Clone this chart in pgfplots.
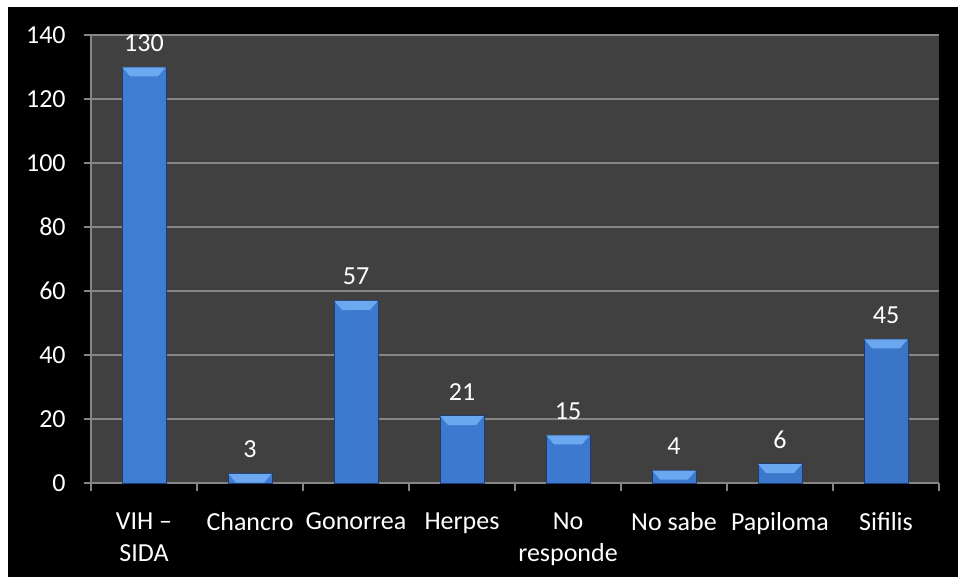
\documentclass[border=0pt]{standalone}
\usepackage{fontspec}
\setmainfont{Carlito}
\usepackage{pgfplots}
\pgfplotsset{compat=1.18}

\definecolor{plotbg}{RGB}{64,64,64}
\definecolor{gridgray}{RGB}{134,134,134}
\definecolor{bardark}{RGB}{30,60,115}
\definecolor{bevel}{RGB}{108,168,240}

% horizontal shading of a bar: light left edge, mid blue body, dark right edge
\pgfdeclarehorizontalshading{barshade}{100bp}{%
  rgb(0bp)=(0.33,0.58,0.88);
  rgb(12bp)=(0.25,0.50,0.83);
  rgb(40bp)=(0.24,0.48,0.81);
  rgb(60bp)=(0.24,0.48,0.81);
  rgb(85bp)=(0.22,0.44,0.76);
  rgb(100bp)=(0.15,0.32,0.60)}

% lighter trapezoid on top of each bar
\pgfdeclareplotmark{bevel}{%
  \pgfpathmoveto{\pgfpoint{-16.2pt}{-0.3pt}}%
  \pgfpathlineto{\pgfpoint{16.2pt}{-0.3pt}}%
  \pgfpathlineto{\pgfpoint{10.5pt}{-7pt}}%
  \pgfpathlineto{\pgfpoint{-10.5pt}{-7pt}}%
  \pgfpathclose
  \pgfusepathqfill
}

\pgfdeclarelayer{bg}
\pgfsetlayers{bg,main}

\begin{document}
\begin{tikzpicture}
  \begin{axis}[
    at={(0pt,0pt)}, anchor=south west,
    scale only axis,
    width=636pt, height=336pt,
    xmin=0.5, xmax=8.5,
    ymin=0, ymax=140,
    axis background/.style={fill=plotbg},
    axis x line=bottom, axis y line=left,
    axis line style={gridgray, line width=1.1pt, -},
    ymajorgrids,
    grid style={gridgray, line width=1.1pt},
    ytick={0,20,...,140},
    xtick={1,...,8},
    minor xtick={0.5,1.5,...,8.5},
    major x tick style={draw=none},
    minor tick length=6pt,
    major tick length=5.5pt,
    tick align=outside,
    tick style={gridgray, line width=1.1pt},
    xticklabels={{VIH --\\SIDA},Chancro,Gonorrea,Herpes,{No\\responde},No sabe,Papiloma,Sifilis},
    ticklabel style={font=\fontsize{19.5}{24}\selectfont, text=white},
    xticklabel style={align=center, yshift=-13pt},
    yticklabel style={xshift=-10pt},
    /pgf/number format/assume math mode=true,
    ybar, bar width=0.415,
    nodes near coords,
    every node near coord/.append style={font=\fontsize{19.5}{24}\selectfont, text=white, yshift=8pt},
    clip=false,
  ]
    \addplot[
      draw=bardark, line width=0.5pt,
      shading=barshade,
      mark=bevel, mark options={fill=bevel, draw=none},
    ] coordinates {
      (1,130) (2,3) (3,57) (4,21) (5,15) (6,4) (7,6) (8,45)
    };
  \end{axis}
  % page background: black panel with a thin white margin at top and left
  \begin{pgfonlayer}{bg}
    \fill[white] (-68.25pt,-70.5pt) rectangle (650.25pt,362.25pt);
    \fill[black] (-62.25pt,-70.5pt) rectangle (650.25pt,357pt);
  \end{pgfonlayer}
\end{tikzpicture}
\end{document}
